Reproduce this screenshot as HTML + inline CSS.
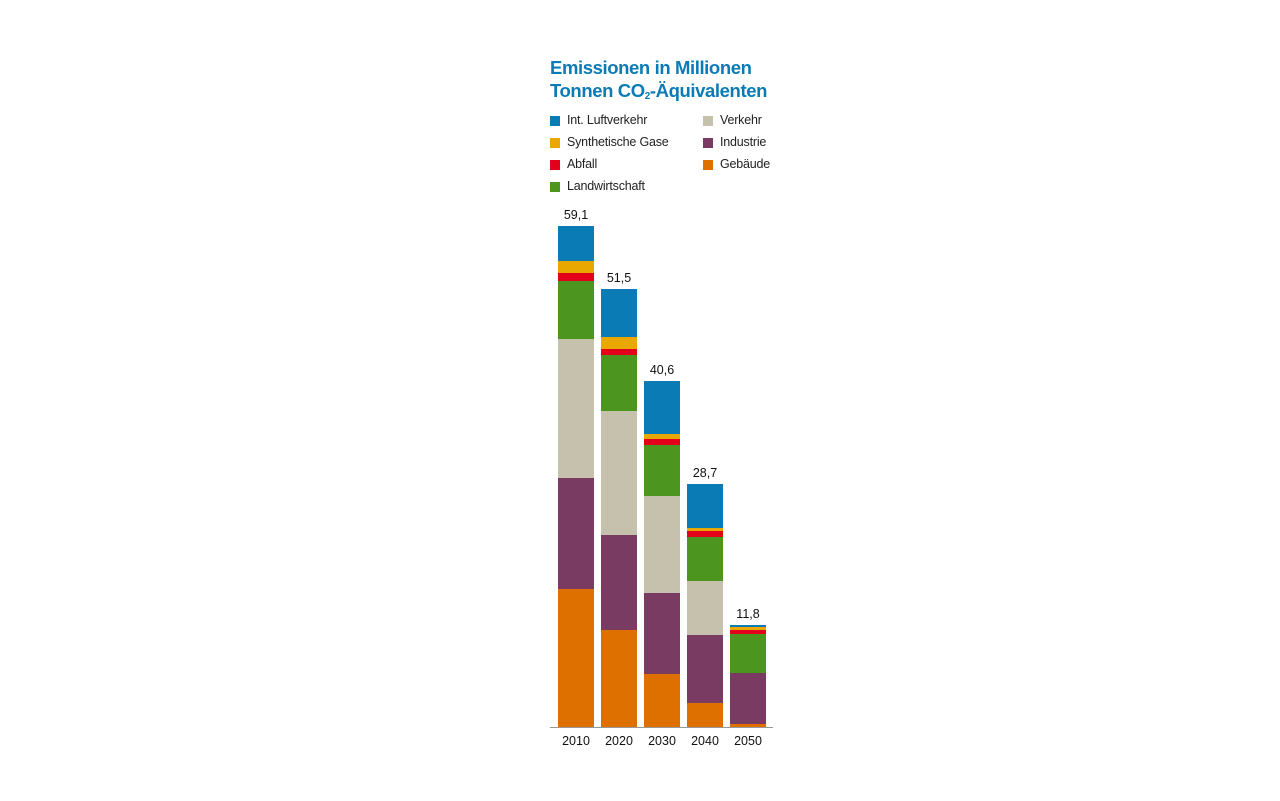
<!DOCTYPE html><html><head><meta charset="utf-8"><style>
body{margin:0;background:#fff;width:1280px;height:801px;position:relative;font-family:"Liberation Sans",sans-serif;overflow:hidden}
.t{position:absolute;left:550px;top:56px;color:#0a7bb5;font-weight:bold;font-size:18.5px;line-height:23px;letter-spacing:-0.4px}
.t sub{font-size:10px;line-height:0;vertical-align:-2px}
.l{position:absolute;font-size:12.5px;color:#222;letter-spacing:-0.2px}
.l i{position:absolute;left:-17px;top:3px;width:10px;height:10px}
.s{position:absolute;width:36px}
.v{position:absolute;width:50px;text-align:center;font-size:12.5px;color:#111}
.y{position:absolute;top:734px;width:50px;text-align:center;font-size:12.5px;color:#111}
</style></head><body>
<div class="t">Emissionen in Millionen<br>Tonnen CO<sub>2</sub>-Äquivalenten</div>
<div class="l" style="left:567px;top:113px"><i style="background:#0a7bb5"></i>Int. Luftverkehr</div>
<div class="l" style="left:567px;top:135px"><i style="background:#e8a800"></i>Synthetische Gase</div>
<div class="l" style="left:567px;top:157px"><i style="background:#e3001b"></i>Abfall</div>
<div class="l" style="left:567px;top:179px"><i style="background:#4c9620"></i>Landwirtschaft</div>
<div class="l" style="left:720px;top:113px"><i style="background:#c6c1ac"></i>Verkehr</div>
<div class="l" style="left:720px;top:135px"><i style="background:#7a3b62"></i>Industrie</div>
<div class="l" style="left:720px;top:157px"><i style="background:#de7000"></i>Gebäude</div>
<div id="c"></div>
<div style="position:absolute;left:550px;top:727px;width:223px;height:1px;background:#999"></div>
<script>
var cols=["#0a7bb5","#e8a800","#e3001b","#4c9620","#c6c1ac","#7a3b62","#de7000"];
var d=[[558,"59,1","2010",[226,261,273,281,339,478,589,727]],
[601,"51,5","2020",[289,337,349,355,411,535,630,727]],
[644,"40,6","2030",[381,434,439,445,496,593,674,727]],
[687,"28,7","2040",[484,528,531,537,581,635,703,727]],
[730,"11,8","2050",[625,627,630,634,673,673,724,727]]];
var h="";d.forEach(function(b){var y=b[3];for(var i=0;i<7;i++){if(y[i+1]>y[i])h+='<div class="s" style="left:'+b[0]+'px;top:'+y[i]+'px;height:'+(y[i+1]-y[i])+'px;background:'+cols[i]+'"></div>';}
h+='<div class="v" style="left:'+(b[0]-7)+'px;top:'+(y[0]-18)+'px">'+b[1]+'</div>';
h+='<div class="y" style="left:'+(b[0]-7)+'px">'+b[2]+'</div>';});
document.getElementById("c").innerHTML=h;
</script>
</body></html>
